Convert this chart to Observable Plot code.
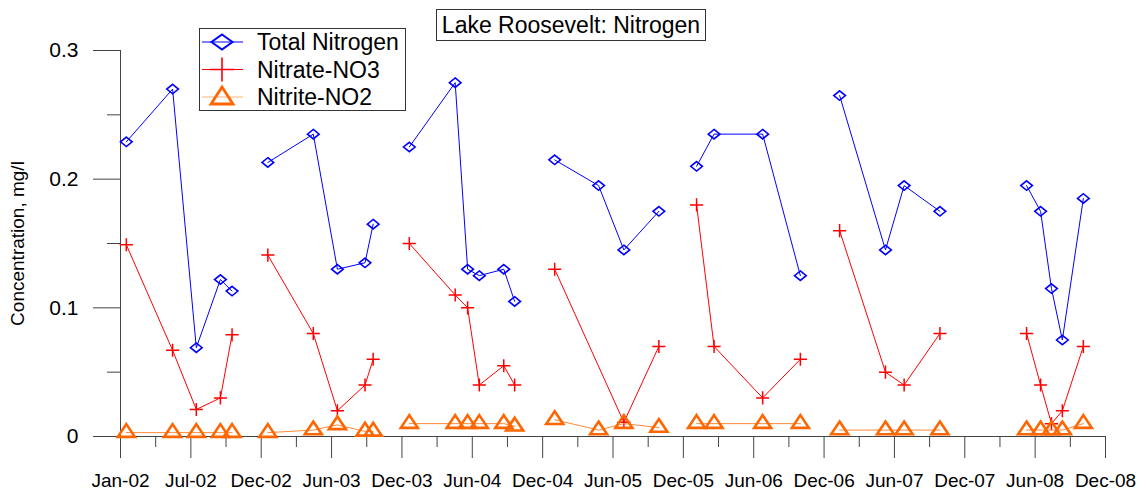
<!DOCTYPE html>
<html>
<head>
<meta charset="utf-8">
<script src="https://cdn.jsdelivr.net/npm/d3@7"></script>
<script src="https://cdn.jsdelivr.net/npm/@observablehq/plot@0.6"></script>
<style>
  body { margin: 0; background: #fff; font-family: "Liberation Sans", Arial, sans-serif; }
  #wrap { position: relative; width: 1146px; height: 493px; }
  #title {
    position: absolute; left: 436px; top: 9px; width: 270px; height: 32px;
    box-sizing: border-box; border: 1px solid #333; background: #fff;
    font-size: 23px; line-height: 30px; text-align: center; color: #000;
  }
  #legend {
    position: absolute; left: 199px; top: 28px; width: 207px; height: 83px;
    box-sizing: border-box; border: 1px solid #333; background: #fff;
  }
  #legend svg { position: absolute; left: -1px; top: -1px; }
</style>
</head>
<body>
<div id="wrap">
  <div id="chart"></div>
  <div id="title">Lake Roosevelt: Nitrogen</div>
  <div id="legend"></div>
</div>
<script>
// Sampling dates (one survey per row)
const sampleDates = [
  "2002-01-16", "2002-05-15", "2002-07-15", "2002-09-15", "2002-10-15",
  "2003-01-15", "2003-05-12", "2003-07-13", "2003-09-22", "2003-10-13",
  "2004-01-14", "2004-05-11", "2004-06-12", "2004-07-12", "2004-09-13", "2004-10-11",
  "2005-01-22", "2005-05-15", "2005-07-19", "2005-10-17",
  "2006-01-22", "2006-03-08", "2006-07-11", "2006-10-16",
  "2007-01-25", "2007-05-23", "2007-07-10", "2007-10-10",
  "2008-05-20", "2008-06-25", "2008-07-23", "2008-08-20", "2008-10-13"
];

// Concentrations, mg/l (null = not reported)
const totalNitrogen = [
  0.229, 0.270, 0.069, 0.122, 0.113,
  0.213, 0.235, 0.130, 0.135, 0.165,
  0.225, 0.275, 0.130, 0.125, 0.130, 0.105,
  0.215, 0.195, 0.145, 0.175,
  0.210, 0.235, 0.235, 0.125,
  0.265, 0.145, 0.195, 0.175,
  0.195, 0.175, 0.115, 0.075, 0.185
];
const nitrate = [
  0.149, 0.067, 0.021, 0.030, 0.079,
  0.141, 0.080, 0.020, 0.040, 0.060,
  0.150, 0.110, 0.100, 0.040, 0.055, 0.040,
  0.130, null, 0.011, 0.070,
  0.180, 0.070, 0.030, 0.060,
  0.160, 0.050, 0.040, 0.080,
  0.080, 0.040, 0.010, 0.020, 0.070
];
const nitrite = [
  0.003, 0.003, 0.003, 0.003, 0.003,
  0.003, 0.005, 0.009, 0.004, 0.004,
  0.010, 0.010, 0.010, 0.010, 0.010, 0.008,
  0.013, 0.005, 0.010, 0.007,
  0.010, 0.010, 0.010, 0.010,
  0.005, 0.005, 0.005, 0.005,
  0.005, 0.005, 0.005, 0.005, 0.010
];

const seriesNames = ["Total Nitrogen", "Nitrate-NO3", "Nitrite-NO2"];
const xTickLabels = ["Jan-02", "Jul-02", "Dec-02", "Jun-03", "Dec-03", "Jun-04", "Dec-04",
  "Jun-05", "Dec-05", "Jun-06", "Dec-06", "Jun-07", "Dec-07", "Jun-08", "Dec-08"];
const yTickValues = [0, 0.1, 0.2, 0.3];
const yTickLabels = ["0", "0.1", "0.2", "0.3"];
const yMinorTicks = [0.05, 0.15, 0.25];

const blue = "#0000ff", red = "#ff0000", orange = "#ff6600", orangeLine = "#ff8a3a", axisColor = "#444";

// Marker shapes
const diamond = {draw(c, size) { const r = Math.sqrt(size) * 0.62625; c.moveTo(0, -r * 0.85); c.lineTo(r * 1.05, 0); c.lineTo(0, r * 0.85); c.lineTo(-r * 1.05, 0); c.closePath(); }};
const triangle = {draw(c, size) { const s = Math.sqrt(size) * 0.6; const h = s * 1.5; c.moveTo(0, -h * 2 / 3); c.lineTo(s, h / 3); c.lineTo(-s, h / 3); c.closePath(); }};

function rows(values) {
  return sampleDates
    .map((d, i) => ({date: new Date(d), year: d.slice(0, 4), value: values[i]}))
    .filter(r => r.value != null);
}
const tnRows = rows(totalNitrogen), no3Rows = rows(nitrate), no2Rows = rows(nitrite);

// Axis ticks every 181 days from Jan 2002, minor ticks halfway between
const start = new Date(Date.UTC(2002, 0, 1));
const majorTicks = xTickLabels.map((_, i) => d3.utcDay.offset(start, 181 * i));
const minorTicks = d3.range(xTickLabels.length - 1).map(i => d3.utcHour.offset(start, Math.round((181 * i + 90.5) * 24)));
const xLabelOf = new Map(majorTicks.map((d, i) => [+d, xTickLabels[i]]));
const yLabelOf = new Map(yTickValues.map((v, i) => [v, yTickLabels[i]]));
const end = majorTicks[majorTicks.length - 1];

const chart = Plot.plot({
  width: 1146,
  height: 493,
  marginLeft: 120,
  marginRight: 41,
  marginTop: 50,
  marginBottom: 57,
  style: {fontFamily: "'Liberation Sans', Arial, sans-serif", background: "#fff", color: "#000", overflow: "visible"},
  x: {type: "utc", domain: [start, end]},
  y: {domain: [0, 0.3]},
  marks: [
    Plot.axisX(majorTicks, {tickSize: 22, tickPadding: 15, tickFormat: d => xLabelOf.get(+d), fontSize: 19, stroke: axisColor, fill: "#000", label: null}),
    Plot.axisX(minorTicks, {tickSize: 11, tickFormat: () => "", stroke: axisColor, label: null}),
    Plot.axisY(yTickValues, {tickSize: 27, tickPadding: 15, tickFormat: d => yLabelOf.get(d), fontSize: 21, stroke: axisColor, fill: "#000", label: null}),
    Plot.axisY(yMinorTicks, {tickSize: 13, tickFormat: () => "", stroke: axisColor, label: null}),
    Plot.ruleX([start], {y1: 0, y2: 0.3, stroke: axisColor}),
    Plot.ruleY([0], {x1: start, x2: end, stroke: axisColor}),
    Plot.text(["Concentration, mg/l"], {frameAnchor: "left", rotate: -90, dx: -103, fontSize: 19, textAnchor: "middle", lineAnchor: "middle", fill: "#000"}),

    Plot.line(tnRows, {x: "date", y: "value", z: "year", stroke: blue, strokeWidth: 1}),
    Plot.dot(tnRows, {x: "date", y: "value", symbol: diamond, r: 5, stroke: blue, strokeWidth: 1.6, fill: "none"}),
    Plot.line(no3Rows, {x: "date", y: "value", z: "year", stroke: red, strokeWidth: 1}),
    Plot.dot(no3Rows, {x: "date", y: "value", symbol: "plus", r: 4.3, stroke: red, strokeWidth: 1.5}),
    Plot.line(no2Rows, {x: "date", y: "value", z: "year", stroke: orangeLine, strokeWidth: 1}),
    Plot.dot(no2Rows, {x: "date", y: "value", symbol: triangle, r: 8, stroke: orange, strokeWidth: 2.6, fill: "none"})
  ]
});
document.getElementById("chart").appendChild(chart);

// Legend: line sample, marker and series name per row
const legendStyles = [
  {line: blue, mark: blue, width: 2, path: "M0,-7.5L10.5,0L0,7.5L-10.5,0Z"},
  {line: red, mark: red, width: 1.6, path: d3.symbol(d3.symbolPlus, 190)()},
  {line: "#ffb07a", mark: orange, width: 2.8, path: "M0,-10L11,7L-11,7Z"}
];
const lsvg = d3.select("#legend").append("svg").attr("width", 207).attr("height", 83);
seriesNames.forEach((name, i) => {
  const st = legendStyles[i];
  const g = lsvg.append("g").attr("transform", `translate(0,${14 + i * 27.5})`);
  g.append("line").attr("x1", 3).attr("x2", 44).attr("stroke", st.line).attr("stroke-width", 1);
  g.append("path").attr("d", st.path).attr("transform", "translate(23,0)")
    .attr("fill", "none").attr("stroke", st.mark).attr("stroke-width", st.width);
  g.append("text").attr("x", 58).attr("dy", "0.35em").attr("font-size", 23)
    .attr("font-family", "'Liberation Sans', Arial, sans-serif").attr("fill", "#000").text(name);
});
</script>
</body>
</html>
